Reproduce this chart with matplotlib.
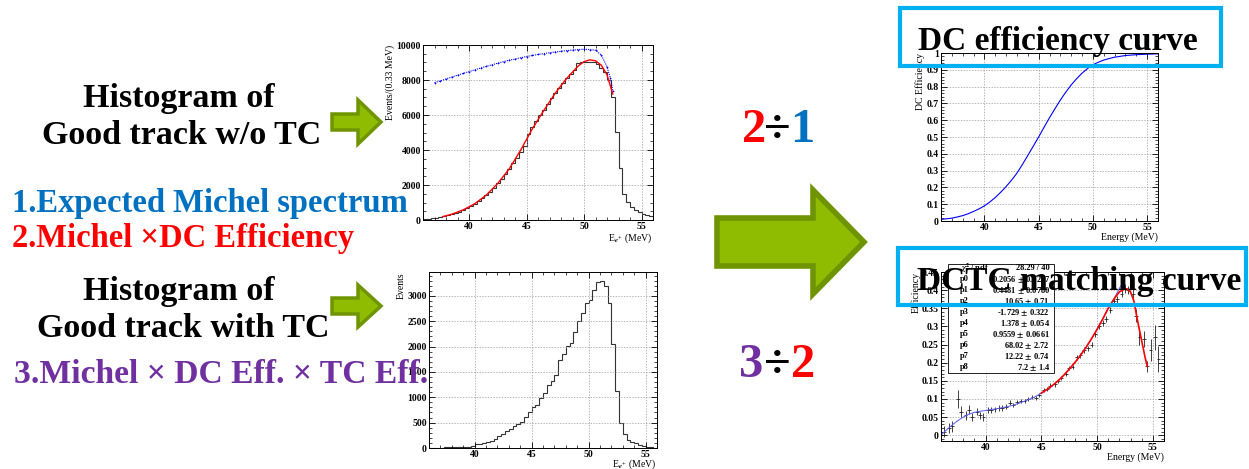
#Michel spectrum -> DC efficiency / DCTC matching summary slide
import numpy as np
import matplotlib.pyplot as plt
from matplotlib.patches import Polygon, Rectangle
from matplotlib.ticker import MultipleLocator, FuncFormatter

W, H = 1249, 469
plt.rcParams['font.family'] = ['Liberation Serif', 'DejaVu Serif']
plt.rcParams['font.weight'] = 'bold'
plt.rcParams['mathtext.fontset'] = 'stix'

#histogram binning, 0.33 MeV bins from 36 to 56 MeV
bin_lo = 36.0
bin_hi = 56.0
n_bins = 60

#good track w/o TC (events per bin)
hist_notc = [40, 60, 90, 120, 160, 210, 260, 330, 400, 480,
             580, 690, 800, 930, 1070, 1230, 1420, 1620, 1850, 2090,
             2350, 2620, 2920, 3230, 3560, 3900, 4250, 4900, 5300, 5650,
             6000, 6300, 6650, 6950, 7250, 7550, 7850, 8100, 8350, 8550,
             8950, 9050, 9050, 9050, 9000, 8900, 8700, 8450, 8000, 7050,
             5050, 3000, 1500, 1050, 750, 580, 450, 350, 290, 230]

#fit: Michel x DC efficiency
fit_e = [37.7, 38.5, 39.5, 40.5, 41.5, 42.5, 43.5, 44.5, 45.5, 46.5,
         47.5, 48.5, 49.5, 50.0, 50.5, 51.0, 51.5, 52.0, 52.5]
fit_v = [190, 330, 580, 930, 1420, 2090, 2920, 4000, 5200, 6250,
         7250, 8100, 8800, 9050, 9150, 9100, 8850, 8300, 7200]

#expected Michel spectrum
mich_e = [37.0, 37.5, 38.0, 38.5, 39.0, 39.5, 40.0, 40.5, 41.0, 41.5,
          42.0, 42.5, 43.0, 43.5, 44.0, 44.5, 45.0, 45.5, 46.0, 46.5,
          47.0, 47.5, 48.0, 48.5, 49.0, 49.5, 50.0, 50.5, 51.0, 51.5,
          52.0, 52.3, 52.5]
mich_v = [7850, 7950, 8060, 8170, 8270, 8380, 8480, 8580, 8680, 8780,
          8870, 8960, 9050, 9130, 9200, 9270, 9340, 9400, 9460, 9510,
          9560, 9600, 9640, 9680, 9710, 9740, 9760, 9740, 9700, 9430,
          8760, 8100, 7400]

#good track with TC (events per bin)
hist_tc = [5, 5, 5, 5, 13, 13, 13, 13, 26, 26,
           26, 30, 80, 85, 100, 115, 130, 185, 230, 275,
           330, 380, 425, 470, 510, 620, 700, 800, 850, 980,
           1090, 1240, 1330, 1440, 1735, 1850, 2010, 2080, 2280, 2510,
           2670, 2850, 2915, 3110, 3275, 3295, 3190, 2850, 2060, 1130,
           490, 280, 165, 110, 100, 65, 45, 20, 10, 5]

#DC efficiency curve
eff_e = [36.0, 36.5, 37.0, 37.5, 38.0, 38.5, 39.0, 39.5, 40.0, 40.5,
         41.0, 41.5, 42.0, 42.5, 43.0, 43.5, 44.0, 44.5, 45.0, 45.5,
         46.0, 46.5, 47.0, 47.5, 48.0, 48.5, 49.0, 49.5, 50.0, 50.5,
         51.0, 51.5, 52.0, 53.0, 54.0, 55.0, 56.0]
eff_v = [0.010, 0.013, 0.017, 0.024, 0.032, 0.043, 0.057, 0.072, 0.090, 0.113,
         0.140, 0.171, 0.205, 0.243, 0.285, 0.336, 0.390, 0.445, 0.500, 0.558,
         0.615, 0.668, 0.720, 0.767, 0.810, 0.847, 0.880, 0.907, 0.930, 0.945,
         0.958, 0.967, 0.975, 0.985, 0.990, 0.993, 0.995]

#DCTC matching efficiency points
match_e = [36.3, 36.7, 37.0, 37.5, 37.8, 38.2, 38.5, 38.8, 39.2, 39.5,
           39.8, 40.2, 40.5, 40.8, 41.2, 41.5, 41.8, 42.2, 42.5, 42.8,
           43.2, 43.5, 43.8, 44.2, 44.5, 44.8, 45.2, 45.5, 45.8, 46.2,
           46.5, 46.8, 47.2, 47.5, 47.8, 48.2, 48.5, 48.8, 49.2, 49.5,
           49.8, 50.2, 50.5, 50.8, 51.2, 51.5, 51.8, 52.2, 52.5, 52.8,
           53.2, 53.5, 53.8, 54.2, 54.5, 54.8, 55.2, 55.5]
match_v = [0.01, 0.02, 0.025, 0.1, 0.065, 0.055, 0.07, 0.05, 0.065, 0.055,
           0.05, 0.07, 0.07, 0.072, 0.075, 0.075, 0.078, 0.09, 0.083, 0.092,
           0.095, 0.095, 0.1, 0.105, 0.103, 0.11, 0.125, 0.128, 0.137, 0.14,
           0.15, 0.158, 0.17, 0.185, 0.188, 0.215, 0.22, 0.235, 0.24, 0.25,
           0.28, 0.3, 0.31, 0.32, 0.345, 0.37, 0.375, 0.39, 0.405, 0.4,
           0.39, 0.33, 0.27, 0.265, 0.19, 0.235, 0.27, 0.21]
match_err = [0.015, 0.015, 0.015, 0.025, 0.015, 0.012, 0.012, 0.012, 0.01, 0.01,
             0.01, 0.008, 0.008, 0.007, 0.007, 0.007, 0.007, 0.007, 0.006, 0.006,
             0.006, 0.006, 0.006, 0.006, 0.006, 0.006, 0.006, 0.006, 0.006, 0.006,
             0.006, 0.006, 0.006, 0.006, 0.006, 0.007, 0.007, 0.007, 0.007, 0.008,
             0.008, 0.008, 0.008, 0.008, 0.009, 0.009, 0.01, 0.01, 0.012, 0.012,
             0.015, 0.018, 0.02, 0.022, 0.015, 0.03, 0.035, 0.035]

#fit function (full range, blue) and fitted part (red)
mfit_e = [36.0, 36.5, 37.0, 37.5, 38.0, 38.5, 39.0, 39.5, 40.0, 40.5,
          41.0, 41.5, 42.0, 42.5, 43.0, 43.5, 44.0, 44.5, 45.0, 45.5,
          46.0, 46.5, 47.0, 47.5, 48.0, 48.5, 49.0, 49.5, 50.0, 50.5,
          51.0, 51.5, 52.0, 52.4]
mfit_v = [0.0, 0.015, 0.028, 0.04, 0.05, 0.058, 0.063, 0.066, 0.068, 0.071,
          0.073, 0.076, 0.079, 0.083, 0.088, 0.094, 0.1, 0.107, 0.116, 0.126,
          0.137, 0.15, 0.165, 0.182, 0.2, 0.22, 0.242, 0.266, 0.292, 0.32,
          0.35, 0.375, 0.405, 0.425]
rfit_e = [45.0, 45.5, 46.0, 46.5, 47.0, 47.5, 48.0, 48.5, 49.0, 49.5,
          50.0, 50.5, 51.0, 51.5, 52.0, 52.4, 52.7, 53.0, 53.3, 53.6,
          54.0, 54.3, 54.5]
rfit_v = [0.116, 0.126, 0.137, 0.15, 0.165, 0.182, 0.2, 0.22, 0.242, 0.266,
          0.292, 0.32, 0.35, 0.375, 0.395, 0.402, 0.403, 0.395, 0.37, 0.32,
          0.26, 0.215, 0.19]

#fit parameters box
stat_names = ['$\\chi^2$ / ndf', 'p0', 'p1', 'p2', 'p3', 'p4', 'p5', 'p6', 'p7', 'p8']
stat_vals = ['28.29 / 40', '0.2056 $\\pm$ 0.0227', '0.4481 $\\pm$ 0.0780',
             '10.65 $\\pm$ 0.71', '-1.729 $\\pm$ 0.322', '1.378 $\\pm$ 0.054',
             '0.9559 $\\pm$ 0.0661', '68.02 $\\pm$ 2.72', '12.22 $\\pm$ 0.74',
             '7.2 $\\pm$ 1.4']

fig = plt.figure(figsize=(W / 100, H / 100), dpi=100)

def px_axes(l, t, r, b):
    return fig.add_axes([l / W, 1 - b / H, (r - l) / W, (b - t) / H])

def root_style(ax, xmin, ymaj, ymin):
    ax.xaxis.set_major_locator(MultipleLocator(5))
    ax.xaxis.set_minor_locator(MultipleLocator(xmin))
    ax.yaxis.set_major_locator(MultipleLocator(ymaj))
    ax.yaxis.set_minor_locator(MultipleLocator(ymin))
    ax.yaxis.set_major_formatter(FuncFormatter(lambda v, p: '%g' % round(v, 4)))
    ax.tick_params(which='both', direction='in', top=True, right=True,
                   labelsize=7, pad=1.5)
    ax.tick_params(which='major', length=4, width=0.6)
    ax.tick_params(which='minor', length=2, width=0.5)
    ax.grid(True, which='major', ls=(0, (2, 2)), color='#999999', lw=0.5)
    for s in ax.spines.values():
        s.set_linewidth(0.7)

edges = np.linspace(bin_lo, bin_hi, n_bins + 1)
lab = 7

#panel 1: good track w/o TC
ax1 = px_axes(423, 45, 653, 220)
ax1.stairs(hist_notc, edges, color='#333333', lw=0.8)
ax1.plot(mich_e, mich_v, color='blue', lw=0.8, ls=(0, (1, 1)), marker='+', ms=1.5, mew=0.5)
ax1.plot(fit_e, fit_v, color='red', lw=1.0)
ax1.set_xlim(36, 56)
ax1.set_ylim(0, 10000)
root_style(ax1, 1, 2000, 500)
ax1.set_ylabel('Events/(0.33 MeV)', loc='top', fontsize=lab, labelpad=1)
ax1.set_xlabel('E$_{e^{+}}$ (MeV)', loc='right', fontsize=lab, labelpad=0)

#panel 2: good track with TC
ax2 = px_axes(429, 272, 657, 448)
ax2.stairs(hist_tc, edges, color='#333333', lw=0.8)
ax2.set_xlim(36, 56)
ax2.set_ylim(0, 3470)
root_style(ax2, 1, 500, 100)
ax2.set_ylabel('Events', loc='top', fontsize=lab, labelpad=1)
ax2.set_xlabel('E$_{e^{+}}$ (MeV)', loc='right', fontsize=lab, labelpad=-1.5)

#panel 3: DC efficiency
ax3 = px_axes(941, 53, 1158, 221)
ax3.plot(eff_e, eff_v, color='blue', lw=0.8)
ax3.set_xlim(36, 56)
ax3.set_ylim(0, 1)
root_style(ax3, 1, 0.1, 0.02)
ax3.set_ylabel('DC Efficiency', loc='top', fontsize=lab, labelpad=1)
ax3.set_xlabel('Energy (MeV)', loc='right', fontsize=lab, labelpad=0)

#panel 4: DCTC matching
ax4 = px_axes(941, 272, 1164, 441)
ax4.errorbar(match_e, match_v, yerr=match_err, xerr=0.167, fmt='none',
             ecolor='#222222', elinewidth=0.6)
ax4.plot(mfit_e, mfit_v, color='#5a5aff', lw=0.7)
ax4.plot(rfit_e, rfit_v, color='red', lw=1.2)
ax4.set_xlim(36, 56)
ax4.set_ylim(-0.016, 0.45)
root_style(ax4, 1, 0.05, 0.01)
ax4.set_ylabel('Efficiency', loc='top', fontsize=lab, labelpad=1)
ax4.set_xlabel('Energy (MeV)', loc='right', fontsize=lab, labelpad=0)
ax4.add_patch(Rectangle((0.031, 0.40), 0.476, 0.645, transform=ax4.transAxes,
                        fc='white', ec='black', lw=0.6, clip_on=False, zorder=5))
for i in range(len(stat_names)):
    yy = 1.022 - i * 0.065
    ax4.text(0.085, yy, stat_names[i], transform=ax4.transAxes, fontsize=6,
             va='center', ha='left', zorder=6)
    ax4.text(0.489, yy, stat_vals[i], transform=ax4.transAxes, fontsize=6,
             va='center', ha='right', zorder=6)

#overlay in pixel coordinates for slide text and arrows
ov = fig.add_axes([0, 0, 1, 1])
ov.set_xlim(0, W)
ov.set_ylim(H, 0)
ov.axis('off')

def arrow(x0, x1, xh, yc, hs, hh, lw):
    verts = [(x0, yc - hs), (xh, yc - hs), (xh, yc - hh), (x1, yc),
             (xh, yc + hh), (xh, yc + hs), (x0, yc + hs)]
    ov.add_patch(Polygon(verts, closed=True, fc='#8fbc00', ec='#6e9400',
                         lw=lw, joinstyle='miter'))

arrow(332, 381, 358, 122, 8, 22, 2.5)
arrow(332, 381, 358, 306, 8, 21, 2.5)
arrow(717, 864, 813, 242, 24, 52, 4)

big = 24.5
ov.text(179, 107, 'Histogram of', fontsize=big, ha='center', va='baseline')
ov.text(182, 144, 'Good track w/o TC', fontsize=big, ha='center', va='baseline')
ov.text(12, 212, '1.Expected Michel spectrum', fontsize=23.5, color='#0070c0', va='baseline')
ov.text(12, 247, '2.Michel \u00d7DC Efficiency', fontsize=23.5, color='#ff0000', va='baseline')
ov.text(179, 300, 'Histogram of', fontsize=big, ha='center', va='baseline')
ov.text(183, 337, 'Good track with TC', fontsize=big, ha='center', va='baseline')
ov.text(14, 383, '3.Michel \u00d7 DC Eff. \u00d7 TC Eff.', fontsize=24.2, color='#7030a0', va='baseline')

#ratio labels
ov.text(766, 142, '2', fontsize=35, color='#ff0000', ha='right', va='baseline')
ov.text(777, 142, '\u00f7', fontsize=35, color='black', ha='center', va='baseline')
ov.text(790, 142, '1', fontsize=35, color='#0070c0', ha='left', va='baseline')
ov.text(763, 377, '3', fontsize=35, color='#7030a0', ha='right', va='baseline')
ov.text(777, 377, '\u00f7', fontsize=35, color='black', ha='center', va='baseline')
ov.text(791, 377, '2', fontsize=35, color='#ff0000', ha='left', va='baseline')

#title boxes on the right
ov.add_patch(Rectangle((900, 8), 321, 58, fill=False, ec='#00b0f0', lw=3))
ov.text(1058, 50, 'DC efficiency curve', fontsize=24, ha='center', va='baseline')
ov.add_patch(Rectangle((898, 248), 348, 57, fill=False, ec='#00b0f0', lw=3))
ov.text(917, 290, 'DCTC matching curve', fontsize=24, ha='left', va='baseline')

fig.savefig('out.png', dpi=100)
